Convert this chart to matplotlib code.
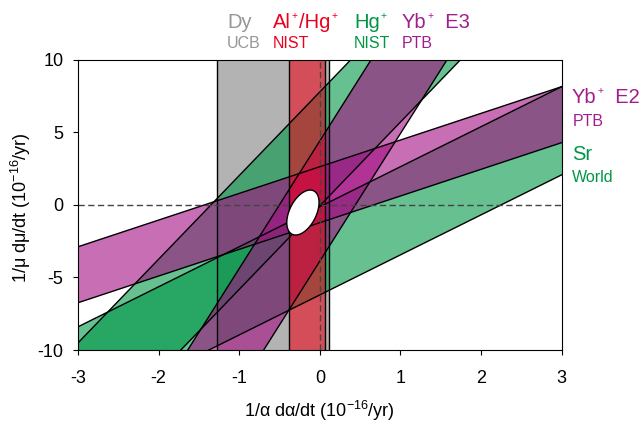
import numpy as np
import matplotlib
matplotlib.use("Agg")
import matplotlib.pyplot as plt

plt.rcParams["font.family"] = ["Liberation Sans", "DejaVu Sans"]
plt.rcParams["mathtext.fontset"] = "custom"
plt.rcParams["mathtext.rm"] = "Liberation Sans"
plt.rcParams["mathtext.it"] = "Liberation Sans:italic"
plt.rcParams["axes.unicode_minus"] = False

# vertical bands (only constrain alpha-dot)
dy_range = [-1.27, 0.115]
alhg_range = [-0.38, 0.07]

# tilted bands: mu_dot = slope * alpha_dot + offset
hg_slope = 5.77
hg_offsets = [-0.05, 7.8]
yb_e3_slope = 8.8
yb_e3_offsets = [-3.87, 4.42]
yb_e2_slope = 1.84
yb_e2_offsets = [-1.22, 2.64]
sr_slope = 2.76
sr_offsets = [-6.2, -0.12]

# combined result (1 sigma ellipse)
comb_center = [-0.21, -0.52]
comb_sigma = [0.2, 1.55]
comb_corr = 0.45

x_ticks = [-3, -2, -1, 0, 1, 2, 3]
y_ticks = [-10, -5, 0, 5, 10]

GRAY = "#b3b3b3"
GREEN = "#009646"
MAGENTA = "#a30d82"
RED = "#eb0519"

fig = plt.figure(figsize=(6.42, 4.26), dpi=100)
ax = fig.add_axes([0.1215, 0.1784, 0.7534, 0.6808])

xx = np.array([-4.0, 4.0])

ax.axvspan(dy_range[0], dy_range[1], color=GRAY, lw=0, zorder=1)
for slope, offs in [(hg_slope, hg_offsets), (sr_slope, sr_offsets)]:
    ax.fill_between(xx, slope * xx + offs[0], slope * xx + offs[1],
                    color=GREEN, alpha=0.6, lw=0, zorder=2)
for slope, offs in [(yb_e3_slope, yb_e3_offsets), (yb_e2_slope, yb_e2_offsets)]:
    ax.fill_between(xx, slope * xx + offs[0], slope * xx + offs[1],
                    color=MAGENTA, alpha=0.6, lw=0, zorder=3)
ax.axvspan(alhg_range[0], alhg_range[1], color=RED, alpha=0.58, lw=0, zorder=4)

# band edges
for v in dy_range + alhg_range:
    ax.axvline(v, color="k", lw=1.0, zorder=5)
for slope, offs in [(hg_slope, hg_offsets), (sr_slope, sr_offsets),
                    (yb_e3_slope, yb_e3_offsets), (yb_e2_slope, yb_e2_offsets)]:
    for b in offs:
        ax.plot(xx, slope * xx + b, color="k", lw=1.0, zorder=5)

ax.axhline(0, color="#444444", lw=1.0, ls=(0, (4.5, 2.5)), zorder=6)
ax.axvline(0, color="#444444", lw=1.0, ls=(0, (4.5, 2.5)), zorder=6)

t = np.linspace(0, 2 * np.pi, 300)
ex = comb_center[0] + comb_sigma[0] * np.cos(t)
ey = comb_center[1] + comb_sigma[1] * (comb_corr * np.cos(t)
                                       + np.sqrt(1 - comb_corr ** 2) * np.sin(t))
ax.fill(ex, ey, facecolor="white", edgecolor="k", lw=1.0, zorder=7)

ax.set_xlim(-3, 3)
ax.set_ylim(-10, 10)
ax.set_xticks(x_ticks)
ax.set_yticks(y_ticks)
ax.tick_params(direction="out", length=3.5, width=0.8, labelsize=13)
ax.tick_params(axis="x", pad=11)
ax.tick_params(axis="y", pad=7)
for s in ax.spines.values():
    s.set_linewidth(0.8)
    s.set_zorder(8)

ax.set_xlabel("1/α dα/dt (10$^{-16}$/yr)", fontsize=13)
ax.set_ylabel("1/μ dμ/dt (10$^{-16}$/yr)", fontsize=13)
ax.xaxis.set_label_coords(0.5, -0.17)
ax.yaxis.set_label_coords(-0.093, 0.49)

renderer = fig.canvas.get_renderer()


def label(x, y, parts, color, size):
    # text pieces; a "+" piece is drawn small and raised like an ion charge
    for s in parts:
        if s == "+":
            txt = fig.text(x + 1 / 642, y + 8.5 / 426, s, color=color, fontsize=size * 0.5)
            x += 2 / 642
        else:
            txt = fig.text(x, y, s, color=color, fontsize=size)
        x += txt.get_window_extent(renderer).width / fig.bbox.width


big = 14.5
small = 11.5
label(0.3536, 0.9354, ["Dy"], "#969696", big)
label(0.3536, 0.8866, ["UCB"], "#969696", small)
label(0.4248, 0.9354, ["Al", "+", "/Hg", "+"], "#eb001e", big)
label(0.4248, 0.8866, ["NIST"], "#eb001e", small)
label(0.5514, 0.9354, ["Hg", "+"], "#009646", big)
label(0.5514, 0.8866, ["NIST"], "#009646", small)
label(0.6257, 0.9354, ["Yb", "+", "  E3"], "#a01e8c", big)
label(0.6257, 0.8866, ["PTB"], "#a01e8c", small)

label(0.8905, 0.7589, ["Yb", "+", "  E2"], "#a01e8c", big)
label(0.8925, 0.7042, ["PTB"], "#a01e8c", small)
label(0.8905, 0.6244, ["Sr"], "#009646", big)
label(0.8905, 0.5735, ["World"], "#009646", small)

fig.savefig("out.png", dpi=100)
